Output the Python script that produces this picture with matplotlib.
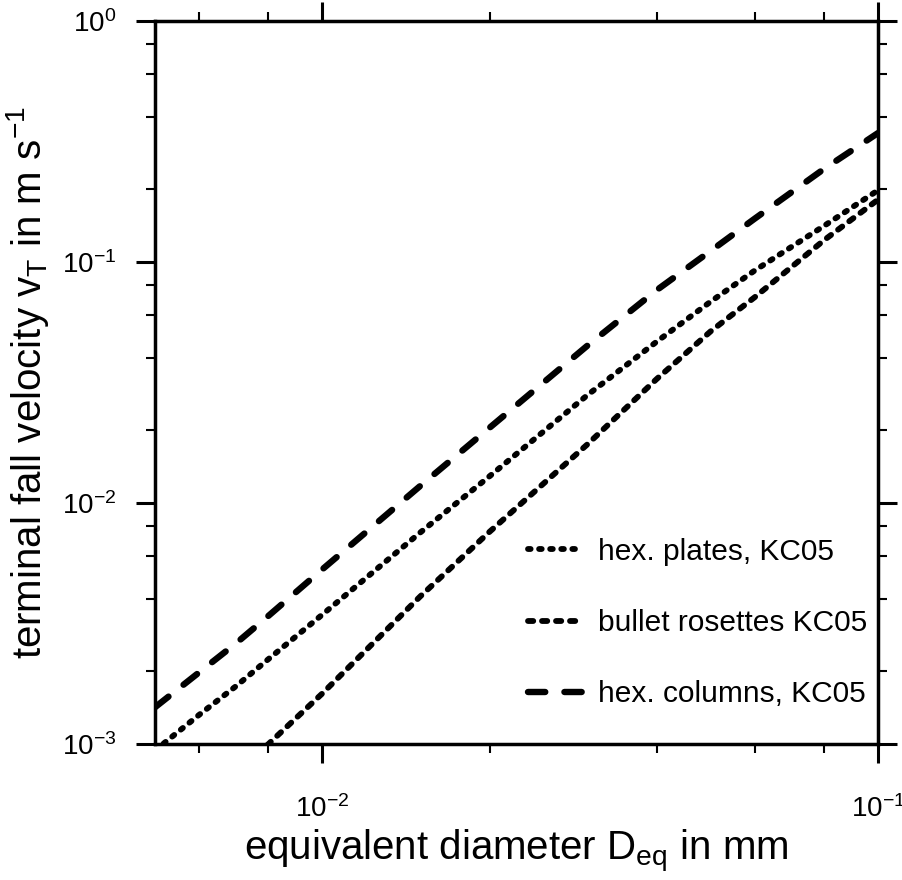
import numpy as np
import matplotlib
matplotlib.use('Agg')
import matplotlib.pyplot as plt
from matplotlib.ticker import LogLocator, NullFormatter

plt.rcParams['font.family'] = ['Liberation Sans', 'DejaVu Sans']
plt.rcParams['mathtext.fontset'] = 'custom'
plt.rcParams['mathtext.rm'] = 'Liberation Sans'
plt.rcParams['mathtext.it'] = 'Liberation Sans:italic'

# equivalent diameter in mm
diam = [0.005, 0.006, 0.007, 0.008, 0.01, 0.015, 0.02, 0.03, 0.04, 0.05, 0.06, 0.08, 0.1]

# terminal fall velocity in m/s
v_plates = [9.4e-4, 1.32e-3, 1.74e-3, 2.25e-3, 3.44e-3, 7.53e-3, 1.29e-2,
            2.80e-2, 4.67e-2, 6.84e-2, 9.2e-2, 0.141, 0.198]
v_rosettes = [3.6e-4, 5.3e-4, 7.5e-4, 1.0e-3, 1.62e-3, 4.09e-3, 7.59e-3,
              1.75e-2, 3.27e-2, 5.15e-2, 7.13e-2, 0.123, 0.181]
v_columns = [1.42e-3, 1.98e-3, 2.62e-3, 3.40e-3, 5.30e-3, 1.175e-2, 2.05e-2,
             4.49e-2, 7.64e-2, 0.111, 0.151, 0.243, 0.342]

labels = ['hex. plates, KC05', 'bullet rosettes KC05', 'hex. columns, KC05']

fig = plt.figure(figsize=(9.02, 8.80), dpi=100)
ax = fig.add_axes([0.1718, 0.1545, 0.8016, 0.822])

ax.plot(diam, v_plates, color='k', lw=4.2, dashes=(0.45, 1.45),
        dash_capstyle='round', label=labels[0])
ax.plot(diam, v_rosettes, color='k', lw=4.2, dashes=(0.9, 1.5),
        dash_capstyle='round', label=labels[1])
ax.plot(diam, v_columns, color='k', lw=4.6, dashes=(2.7, 3.0),
        dash_capstyle='round', label=labels[2])

ax.set_xscale('log')
ax.set_yscale('log')
ax.set_xlim(0.005, 0.1)
ax.set_ylim(1e-3, 1)

ax.xaxis.set_major_locator(LogLocator(base=10))
ax.yaxis.set_major_locator(LogLocator(base=10))
ax.xaxis.set_minor_locator(LogLocator(base=10, subs=(2, 4, 6, 8)))
ax.yaxis.set_minor_locator(LogLocator(base=10, subs=(2, 4, 6, 8)))
ax.xaxis.set_minor_formatter(NullFormatter())
ax.yaxis.set_minor_formatter(NullFormatter())

ax.tick_params(which='both', direction='out', top=True, right=True,
               labelsize=20, color='k')
ax.tick_params(which='major', length=13.7, width=2.2)
ax.tick_params(which='minor', length=6.8, width=1.5)
ax.tick_params(axis='x', which='major', pad=23)
ax.tick_params(axis='y', which='major', pad=14)

for s in ax.spines.values():
    s.set_linewidth(2.5)

ax.set_xlabel(r'equivalent diameter D$_{\rm eq}$ in mm', fontsize=29, labelpad=4)
ax.set_ylabel(r'terminal fall velocity v$_{\rm T}$ in m s$^{-1}$', fontsize=29, labelpad=8)

ax.legend(loc='upper left', bbox_to_anchor=(0.516, 0.285), frameon=False,
          fontsize=21.5, handlelength=1.8, handletextpad=0.55, labelspacing=1.45,
          borderpad=0, borderaxespad=0)

fig.savefig('out.png', dpi=100)
